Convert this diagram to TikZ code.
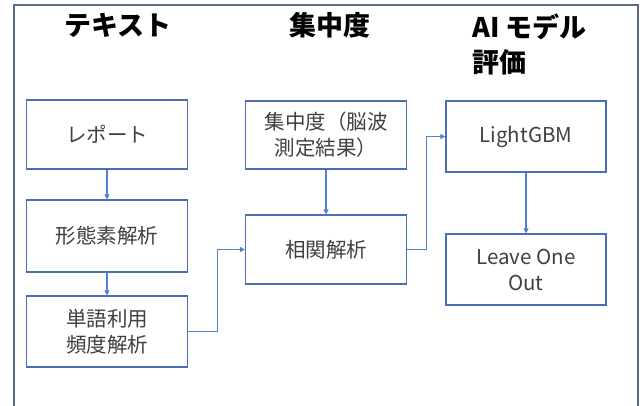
\documentclass[tikz,border=0pt]{standalone}
\usepackage{fontspec}
\setmainfont{Noto Sans CJK JP}
\usetikzlibrary{arrows.meta}
\definecolor{boxblue}{HTML}{4A6FB5}
\definecolor{arrblue}{HTML}{4F81D0}
\definecolor{framec}{HTML}{5A6A8A}
\definecolor{txt}{HTML}{404040}
\tikzset{
  stepbox/.style={draw=boxblue, line width=1.2pt, minimum width=161pt, minimum height=68pt,
    inner sep=0pt, text=txt, font=\fontsize{20.5}{26}\selectfont, align=center},
  title/.style={font=\bfseries\fontsize{27}{35}\selectfont, text=black, inner sep=0pt},
  conn/.style={draw=arrblue, line width=1.2pt, -{Triangle[length=5pt,width=5pt]}}
}
\begin{document}
\begin{tikzpicture}[x=1pt,y=-1pt]
\useasboundingbox (0,0) rectangle (644,405);
\clip (0,0) rectangle (644,405);
\fill[white] (0,0) rectangle (644,405);
\draw[framec, line width=1.8pt] (14,420) -- (14,5) -- (638,5) -- (638,420);
% titles
\node[title] (t1) at (118,25) {テキスト};
\node[title] (t2) at (330,25) {集中度};
\node[title, align=left, anchor=north west] (t3) at (472,14) {AI モデル\\評価};
% boxes
\node[stepbox, minimum height=69pt] (rep) at (107,134.5) {レポート};
\node[stepbox, minimum height=72pt] (kei) at (107,236) {形態素解析};
\node[stepbox, minimum height=71pt] (tan) at (107,331.5) {単語利用\\頻度解析};
\node[stepbox, minimum height=68pt] (shu) at (326,135) {集中度（脳波\\測定結果）};
\node[stepbox, minimum height=69pt] (sok) at (326,249.5) {相関解析};
\node[stepbox, minimum width=160pt, minimum height=71pt] (lgb) at (526,136.5) {LightGBM};
\node[stepbox, minimum width=160pt, minimum height=71pt] (loo) at (526,269.5) {Leave One\\Out};
% connectors
\draw[conn] (rep) -- (kei);
\draw[conn] (kei) -- (tan);
\draw[conn] (shu) -- (sok);
\draw[conn] (lgb) -- (loo);
\draw[conn] (tan.east) -- ++(29,0) |- (sok.west);
\draw[conn] (sok.east) -- ++(19.5,0) |- (lgb.west);
\end{tikzpicture}
\end{document}
